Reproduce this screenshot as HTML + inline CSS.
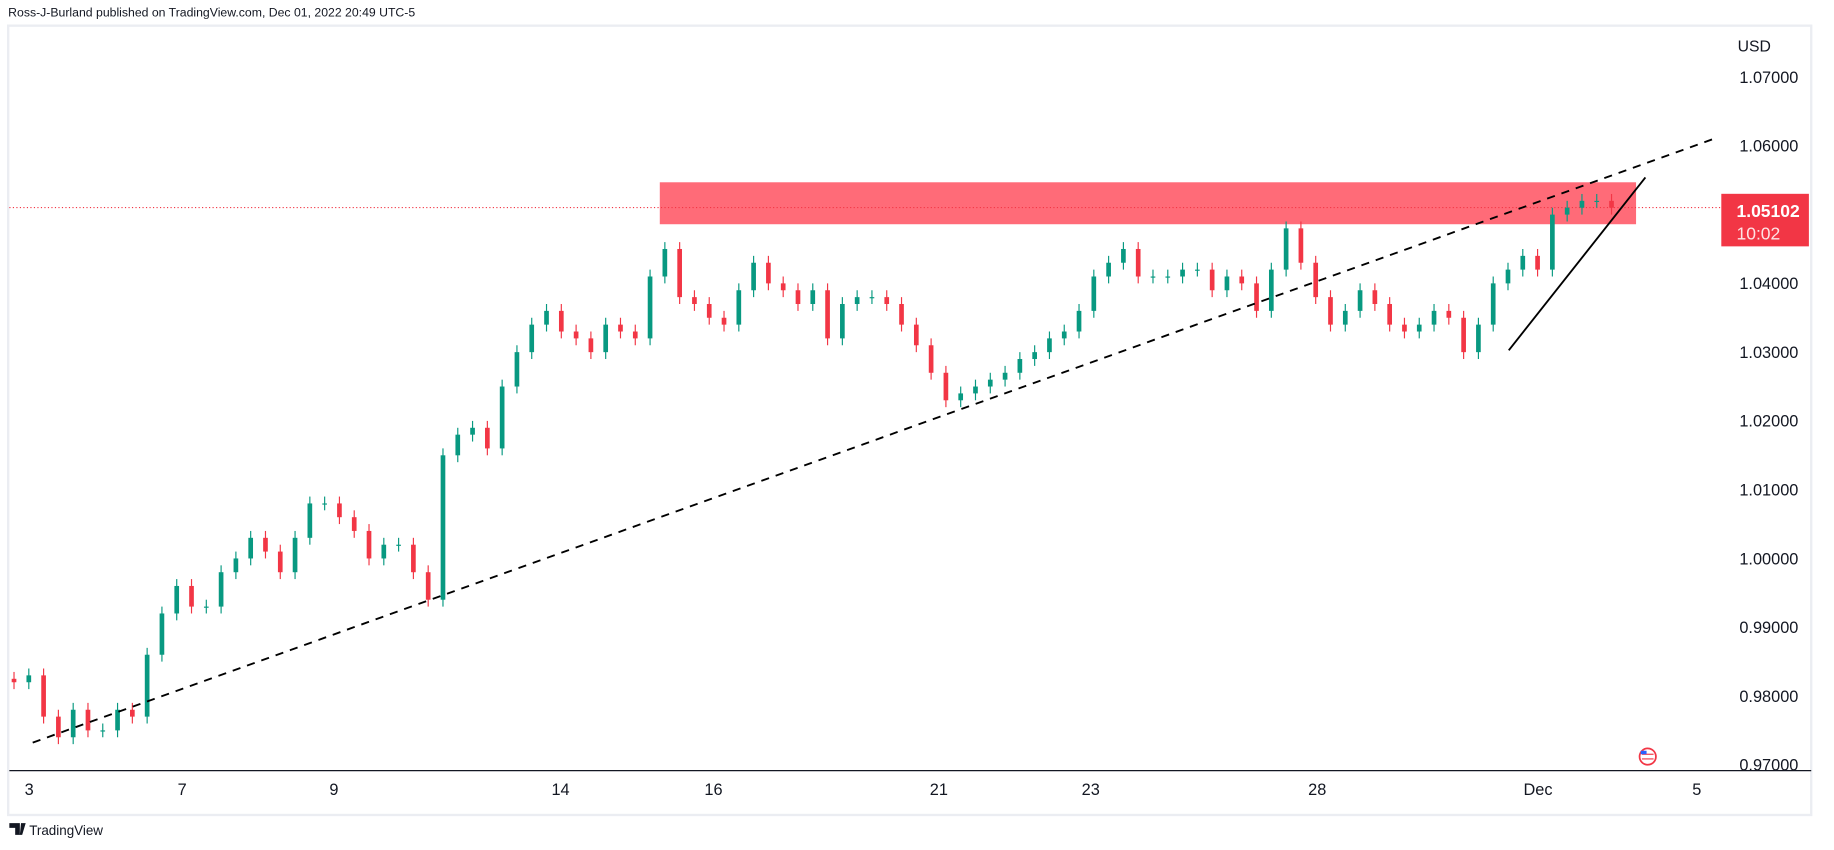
<!DOCTYPE html>
<html><head><meta charset="utf-8"><style>
html,body{margin:0;padding:0;background:#fff;width:1834px;height:850px;overflow:hidden}
svg{display:block;font-family:"Liberation Sans","DejaVu Sans",sans-serif}
</style></head><body>
<svg id="chart" width="1834" height="850" viewBox="0 0 1570.5 728" preserveAspectRatio="none" xmlns="http://www.w3.org/2000/svg">
<text x="7" y="14" font-size="10.5" fill="#131722">Ross-J-Burland published on TradingView.com, Dec 01, 2022 20:49 UTC-5</text>
<rect x="7" y="22" width="1544" height="676" fill="none" stroke="#ebedf2" stroke-width="2"/>
<g id="zone"></g>
<g id="candles"></g>
<g id="overlay"></g>
<g id="yaxis"></g>
<g id="xaxis"></g>
<line x1="8" y1="660" x2="1551" y2="660" stroke="#131722" stroke-width="1"/>
<g><circle cx="1411" cy="648" r="7" fill="#fff" stroke="#f23645" stroke-width="1.5"/><line x1="1406" y1="646" x2="1416" y2="646" stroke="#f23645"/><line x1="1406" y1="650" x2="1416" y2="650" stroke="#f23645"/><rect x="1405" y="643" width="5" height="3" fill="#2962ff"/></g>
<g><path d="M8 705h9v10h-4v-6h-5z M18 705h4l-3 10h-2z" fill="#131722"/><text x="25" y="715" font-size="11.5" fill="#131722">TradingView</text></g>
</svg>
<script>
const closes=[0.982,0.983,0.977,0.974,0.978,0.975,0.975,0.978,0.977,0.986,0.992,0.996,0.993,0.993,0.998,1.000,1.003,1.001,0.998,1.003,1.008,1.008,1.006,1.004,1.000,1.002,1.002,0.998,0.994,1.015,1.018,1.019,1.016,1.025,1.030,1.034,1.036,1.033,1.032,1.030,1.034,1.033,1.032,1.041,1.045,1.038,1.037,1.035,1.034,1.039,1.043,1.040,1.039,1.037,1.039,1.032,1.037,1.038,1.038,1.037,1.034,1.031,1.027,1.023,1.024,1.025,1.026,1.027,1.029,1.030,1.032,1.033,1.036,1.041,1.043,1.045,1.041,1.041,1.041,1.042,1.042,1.039,1.041,1.040,1.036,1.042,1.048,1.043,1.038,1.034,1.036,1.039,1.037,1.034,1.033,1.034,1.036,1.035,1.030,1.034,1.040,1.042,1.044,1.042,1.050,1.051,1.052,1.052,1.051];
const priceTicks=[1.07,1.06,1.05,1.04,1.03,1.02,1.01,1.00,0.99,0.98,0.97];
const dateLabels=["3","7","9","14","16","21","23","28","Dec","5"];
const lastPrice=1.05102;
const zoneTop=1.0547, zoneBot=1.0486;
const NS="http://www.w3.org/2000/svg";
const y=p=>66+(1.07-p)*5890;
const x0=12, x1=1380, xi=i=>x0+i*(x1-x0)/(closes.length-1);
function el(t,a,parent){const e=document.createElementNS(NS,t);for(const k in a)e.setAttribute(k,a[k]);parent.appendChild(e);return e;}
const zg=document.getElementById('zone');
el('rect',{x:565,y:y(zoneTop),width:836,height:y(zoneBot)-y(zoneTop),fill:'#ff6b78'},zg);
el('line',{x1:8,x2:1474,y1:y(lastPrice),y2:y(lastPrice),stroke:'#f23645','stroke-width':1,'stroke-dasharray':'1,2'},zg);
const cg=document.getElementById('candles');
for(let i=0;i<closes.length;i++){
  const c=closes[i],o=i?closes[i-1]:c+0.0005;
  const col=c>=o?'#089981':'#f23645';
  const hi=Math.max(o,c)+0.001, lo=Math.min(o,c)-0.001;
  const X=xi(i);
  const w=el('line',{x1:X,x2:X,y1:y(hi),y2:y(lo),stroke:col,'stroke-width':1},cg);
  
  
  const top=y(Math.max(o,c)),h=Math.max(1,y(Math.min(o,c))-top);
  const b=el('rect',{x:X-2,y:top,width:4,height:h,fill:col},cg);
  
  
}
const og=document.getElementById('overlay');
const t1=el('line',{x1:28,y1:636,x2:1470,y2:118,stroke:'#000','stroke-width':1.6,'stroke-dasharray':'7,6'},og);


const t2=el('line',{x1:1292,y1:300,x2:1409,y2:152,stroke:'#000','stroke-width':1.6},og);


const yg=document.getElementById('yaxis');
const u=el('text',{x:1488,y:44,'font-size':13.5,fill:'#131722'},yg);u.textContent='USD';


priceTicks.forEach(p=>{if(Math.abs(p-1.05)<1e-9)return;
  const t=el('text',{x:1540,y:y(p)+5,'font-size':14,'text-anchor':'end',fill:'#131722'},yg);
  t.textContent=p.toFixed(5);
  
  });
const lb=el('rect',{x:1474,y:166,width:75,height:45,fill:'#f23645'},yg);


const lt=el('text',{x:1487,y:186,'font-size':15,'font-weight':'bold',fill:'#fff'},yg);lt.textContent=lastPrice.toFixed(5);


const tt=el('text',{x:1487,y:205,'font-size':15,fill:'#fde3e5'},yg);tt.textContent='10:02';


const xg=document.getElementById('xaxis');
const dx=[25,156,286,480,611,804,934,1128,1317,1453];
dateLabels.forEach((d,k)=>{const t=el('text',{x:dx[k],y:681,'font-size':14,'text-anchor':'middle',fill:'#131722'},xg);t.textContent=d;
  
  });
</script>
</body></html>
